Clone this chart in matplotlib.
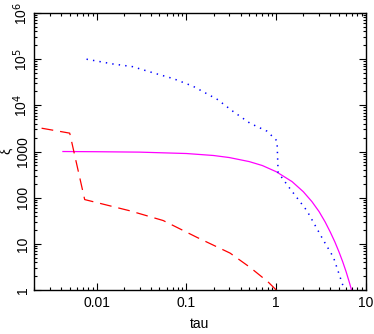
import matplotlib
matplotlib.use("Agg")
import matplotlib.pyplot as plt
import numpy as np

plt.rcParams['font.family'] = ['Liberation Sans', 'DejaVu Sans']
plt.rcParams['lines.scale_dashes'] = False

# solid magenta curve
tau_solid = np.array([0.0042, 0.01, 0.03, 0.1, 0.2, 0.3, 0.5, 0.7, 1.0, 1.5, 2.0, 2.5, 3.0, 3.5, 4.0, 4.5, 5.0, 5.5, 6.0, 6.5, 6.9])
xi_solid = np.array([1000, 990, 970, 905, 820, 740, 605, 497, 365, 223, 135, 82, 50, 30, 18, 11, 6.7, 4.1, 2.5, 1.5, 1.0])

# dashed red curve
tau_dash = np.array([0.00243, 0.0050, 0.00734, 0.0234, 0.055, 0.131, 0.306, 0.51, 0.81, 1.0])
xi_dash = np.array([3200, 2500, 91, 52, 32, 13.8, 6.3, 3.1, 1.5, 1.0])

# dotted blue curve
tau_dot = np.array([0.0077, 0.015, 0.025, 0.042, 0.071, 0.118, 0.22, 0.33, 0.51, 0.79, 1.02, 1.05, 1.43, 2.2, 3.35, 4.34, 5.75])
xi_dot = np.array([1.0e5, 7.9e4, 6.9e4, 5.1e4, 3.8e4, 2.6e4, 1.35e4, 7400, 4100, 2750, 1700, 350, 155, 52, 12, 5.1, 1.0])

xticks = [0.01, 0.1, 1, 10]
xticklabels = ['0.01', '0.1', '1', '10']
yticks = [1, 10, 100, 1000, 1e4, 1e5, 1e6]
yticklabels = ['1', '10', '100', '1000', r'10$^{4}$', r'10$^{5}$', r'10$^{6}$']

fig = plt.figure(figsize=(3.74, 3.34), dpi=100)
ax = fig.add_axes([0.0909, 0.1317, 0.8877, 0.8293])

ax.plot(tau_solid, xi_solid, color='#ff00ff', lw=0.9)
ax.plot(tau_dash, xi_dash, color='#ff0000', lw=0.9, dashes=(8.5, 5))
ax.plot(tau_dot, xi_dot, color='#0000ff', lw=1.1, dashes=(1, 3.7))

ax.set_xscale('log')
ax.set_yscale('log')
ax.set_xlim(0.002, 10)
ax.set_ylim(1, 1e6)

ax.set_xticks(xticks)
ax.set_xticklabels(xticklabels, fontsize=10)
ax.set_yticks(yticks)
ax.set_yticklabels(yticklabels, fontsize=10, rotation=90, va='center')

ax.tick_params(which='both', direction='in', top=True, right=True, width=0.8)
ax.tick_params(which='major', length=5, pad=4)
ax.tick_params(axis='y', which='major', pad=3)
ax.tick_params(which='minor', length=2.5)
for s in ax.spines.values():
    s.set_linewidth(1.0)

ax.set_xlabel('tau', fontsize=10, labelpad=5)
ax.set_ylabel('ξ', fontsize=10)
# label sits just left of the 1000 tick label, a bit above axis middle
ax.yaxis.set_label_coords(-0.063, (290 - 151) / 277.0)

fig.savefig('out.png', dpi=100)
